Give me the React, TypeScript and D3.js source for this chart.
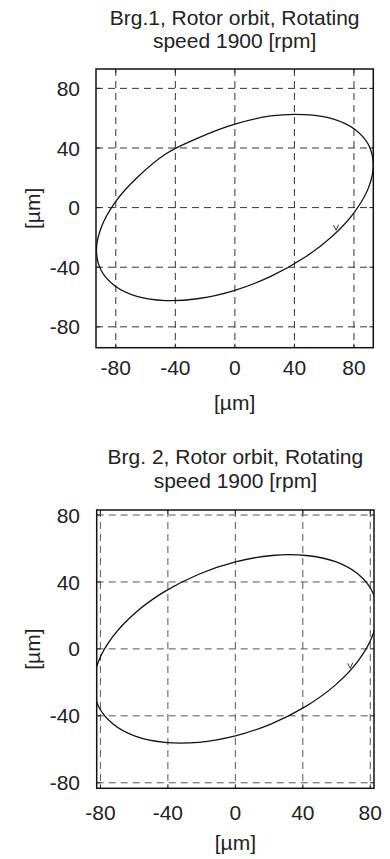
import React from "react";
import * as d3 from "d3";

// ---- data ----
const ticks = [-80, -40, 0, 40, 80];
const tickLabels = ["-80", "-40", "0", "40", "80"];

const title1 = ["Brg.1, Rotor orbit, Rotating", "speed 1900 [rpm]"];
const title2 = ["Brg. 2, Rotor orbit, Rotating", "speed 1900 [rpm]"];
const axisLabel = "[\u00b5m]";

// Bearing 1 orbit points [x, y] in µm
const orbit1X = [93, 89.8, 80.5, 65.8, 46.5, 24.1, 0, -24.1, -46.5, -65.8, -80.5, -89.8, -93, -89.8, -80.5, -65.8, -46.5, -24.1, 0, 24.1, 46.5, 65.8, 80.5, 89.8];
const orbit1Y = [28.8, 42.2, 52.6, 59.6, 62.4, 61.5, 56, 47, 36, 20, 3.5, -13.4, -28.8, -42.2, -52.6, -59.6, -62.4, -61.0, -55.5, -46.2, -33.7, -18.9, -2.8, 13.4];

// Bearing 2 orbit points [x, y] in µm
const orbit2X = [84, 81.1, 72.7, 59.4, 42.0, 21.7, 0, -21.7, -42.0, -59.4, -72.7, -81.1, -84, -81.1, -72.7, -59.4, -42.0, -21.7, 0, 21.7, 42.0, 59.4, 72.7, 81.1];
const orbit2Y = [21.6, 34.4, 44.7, 52.1, 55.8, 55.8, 52.0, 44.6, 34.2, 21.5, 7.3, -7.4, -21.6, -34.4, -44.7, -52.1, -55.8, -55.8, -52.0, -44.6, -34.2, -21.5, -7.3, 7.4];

// rotation-direction marker positions [x, y]
const marker1 = [69, -13.8];
const marker2 = [69, -10.4];

const FONT = "'Liberation Sans', Arial, Helvetica, sans-serif";

type PanelProps = {
  id: string;
  title: string[];
  titleY: number[];
  xDomain: [number, number];
  yDomain: [number, number];
  left: number;
  right: number;
  top: number;
  bottom: number;
  xs: number[];
  ys: number[];
  marker: number[];
  gridColor: string;
  xTickY: number;
  xLabelY: number;
};

function Panel(p: PanelProps) {
  const x = d3.scaleLinear().domain(p.xDomain).range([p.left, p.right]);
  const y = d3.scaleLinear().domain(p.yDomain).range([p.bottom, p.top]);
  const pts: [number, number][] = p.xs.map((v, i) => [v, p.ys[i]]);
  const line = d3
    .line<[number, number]>()
    .x((d) => x(d[0]))
    .y((d) => y(d[1]))
    .curve(d3.curveCatmullRomClosed.alpha(0.5));
  const cx = (p.left + p.right) / 2;
  const cy = (p.top + p.bottom) / 2;
  const tl = 4;
  const mx = x(p.marker[0]);
  const my = y(p.marker[1]);
  return (
    <g>
      <defs>
        <clipPath id={p.id}>
          <rect x={p.left} y={p.top} width={p.right - p.left} height={p.bottom - p.top} />
        </clipPath>
      </defs>
      {p.title.map((t, i) => (
        <text key={i} x={cx} y={p.titleY[i]} textAnchor="middle" fontFamily={FONT} fontSize={21} fill="#222">
          {t}
        </text>
      ))}
      {/* grid */}
      {ticks.map((t) => (
        <g key={"g" + t}>
          <line x1={x(t)} x2={x(t)} y1={p.top} y2={p.bottom} stroke={p.gridColor} strokeWidth={1} strokeDasharray="7,5" />
          <line x1={p.left} x2={p.right} y1={y(t)} y2={y(t)} stroke={p.gridColor} strokeWidth={1} strokeDasharray="7,5" />
          {/* inward ticks */}
          <line x1={x(t)} x2={x(t)} y1={p.bottom} y2={p.bottom - tl} stroke="#222" strokeWidth={1} />
          <line x1={x(t)} x2={x(t)} y1={p.top} y2={p.top + tl} stroke="#222" strokeWidth={1} />
          <line x1={p.left} x2={p.left + tl} y1={y(t)} y2={y(t)} stroke="#222" strokeWidth={1} />
          <line x1={p.right} x2={p.right - tl} y1={y(t)} y2={y(t)} stroke="#222" strokeWidth={1} />
        </g>
      ))}
      <path d={line(pts) || ""} fill="none" stroke="#111" strokeWidth={1.3} clipPath={`url(#${p.id})`} />
      <path
        d={`M${mx - 4},${my - 3} L${mx - 1.5},${my + 2} L${mx + 1},${my - 3.5}`}
        fill="none"
        stroke="#333"
        strokeWidth={1}
      />
      <rect x={p.left} y={p.top} width={p.right - p.left} height={p.bottom - p.top} fill="none" stroke="#111" strokeWidth={1.5} />
      {ticks.map((t, i) => (
        <text key={"yl" + t} x={80} y={y(t)} dy="0.36em" textAnchor="end" fontFamily={FONT} fontSize={21} fill="#222">
          {tickLabels[i]}
        </text>
      ))}
      {ticks.map((t, i) => (
        <text key={"xl" + t} x={x(t)} y={p.xTickY} textAnchor="middle" fontFamily={FONT} fontSize={21} fill="#222">
          {tickLabels[i]}
        </text>
      ))}
      <text x={cx} y={p.xLabelY} textAnchor="middle" fontFamily={FONT} fontSize={21} fill="#222">
        {axisLabel}
      </text>
      <text
        transform={`translate(40,${cy}) rotate(-90)`}
        textAnchor="middle"
        fontFamily={FONT}
        fontSize={21}
        fill="#222"
      >
        {axisLabel}
      </text>
    </g>
  );
}

export default function App() {
  return (
    <svg width={390} height={859} style={{ position: "absolute", left: 0, top: 0, background: "#fff" }}>
      <rect x={0} y={0} width={390} height={859} fill="#fff" />
      <Panel
        id="clip1"
        title={title1}
        titleY={[25, 48]}
        xDomain={[-93.3, 93]}
        yDomain={[-94, 93]}
        left={96}
        right={373.3}
        top={69}
        bottom={347.7}
        xs={orbit1X}
        ys={orbit1Y}
        marker={marker1}
        gridColor="#333"
        xTickY={375}
        xLabelY={410}
      />
      <Panel
        id="clip2"
        title={title2}
        titleY={[463.5, 488]}
        xDomain={[-82.2, 82.2]}
        yDomain={[-83.3, 83]}
        left={96.7}
        right={374}
        top={510}
        bottom={788.3}
        xs={orbit2X}
        ys={orbit2Y}
        marker={marker2}
        gridColor="#555"
        xTickY={820}
        xLabelY={850}
      />
    </svg>
  );
}
